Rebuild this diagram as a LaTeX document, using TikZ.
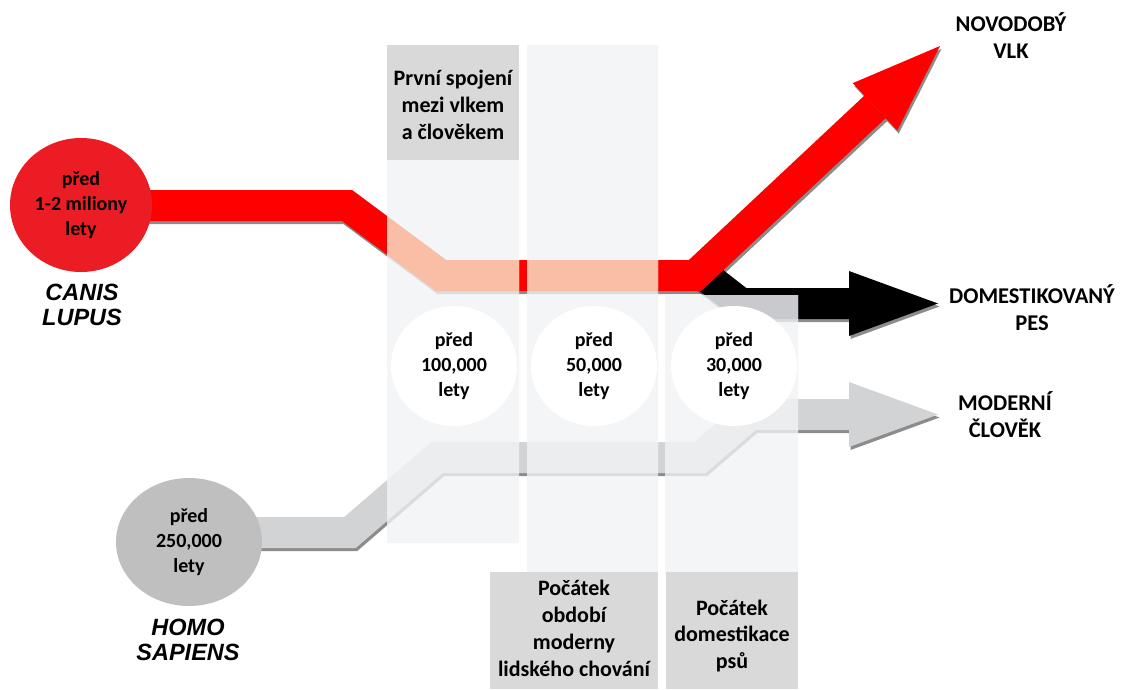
\documentclass[tikz,border=0pt]{standalone}
\usepackage{fontspec}
\setmainfont{Carlito}
\newfontfamily\arialf{Liberation Sans}
\usetikzlibrary{calc,shapes.geometric}
\definecolor{wred}{RGB}{254,0,0}
\definecolor{cred}{RGB}{236,28,36}
\definecolor{peach}{RGB}{249,190,165}
\definecolor{hgray}{RGB}{209,211,212}
\definecolor{hpale}{RGB}{236,237,238}
\definecolor{cgray}{RGB}{191,191,191}
\definecolor{colpale}{RGB}{244,245,247}
\definecolor{boxgray}{RGB}{217,217,217}
\definecolor{dogpale}{RGB}{200,202,205}
\tikzset{
  band/.style={line width=31pt, line join=miter, line cap=butt},
  txt/.style={align=center, inner sep=0pt, font=\fontsize{20}{25}\selectfont\bfseries},
  boxtxt/.style={align=center, inner sep=0pt, font=\fontsize{22}{27}\selectfont\bfseries},
  endtxt/.style={align=center, inner sep=0pt, font=\fontsize{22.5}{27}\selectfont\bfseries},
  species/.style={align=center, inner sep=0pt, font=\arialf\fontsize{23.5}{24.5}\selectfont\bfseries\itshape},
  datec/.style={ellipse, fill=white, minimum width=126pt, minimum height=120pt, inner sep=0pt, align=center, font=\fontsize{20}{25}\selectfont\bfseries},
}
\newcommand{\wolfpaths}[4]{%
  \begin{scope}[transform canvas={xshift=1.5pt,yshift=-3pt}]
    \draw[band, draw=black, opacity=#1] (h0) -- (h1) -- (h2) -- (h3) -- (h4) -- (hb);
    \fill[black, opacity=#1] (ht) -- (hl) -- (hr) -- cycle;
    \draw[band, draw=black, opacity=#1] (d0) -- (d1) -- (db);
    \fill[black, opacity=#1] (dt) -- (dl) -- (dr) -- cycle;
    \draw[band, draw=black, opacity=#1] (w0) -- (w1) -- (w2) -- (w3) -- (wb);
    \fill[black, opacity=#1] (wt) -- (wl) -- (wr) -- cycle;
  \end{scope}
  \draw[band, draw=#2] (h0) -- (h1) -- (h2) -- (h3) -- (h4) -- (hb);
  \fill[#2] (ht) -- (hl) -- (hr) -- cycle;
  \draw[band, draw=#3] (d0) -- (d1) -- (db);
  \fill[#3] (dt) -- (dl) -- (dr) -- cycle;
  \draw[band, draw=#4] (w0) -- (w1) -- (w2) -- (w3) -- (wb);
  \fill[#4] (wt) -- (wl) -- (wr) -- cycle;
}
\begin{document}
\begin{tikzpicture}[x=1pt,y=-1pt]
\useasboundingbox (0,0) rectangle (1125,689);
\fill[white] (0,0) rectangle (1125,689);
% human path
\coordinate (h0) at (200,532.5);
\coordinate (h1) at (350,532.5);
\coordinate (h2) at (437,457.5);
\coordinate (h3) at (700,457.5);
\coordinate (h4) at (750,414.5);
\coordinate (hb) at (849,414.5);
\coordinate (ht) at (938,414.5);
\coordinate (hl) at (849,382);
\coordinate (hr) at (849,447);
% dog path
\coordinate (d0) at (705,275.5);
\coordinate (d1) at (741,303.5);
\coordinate (db) at (849,303.5);
\coordinate (dt) at (938,303.5);
\coordinate (dl) at (849,271);
\coordinate (dr) at (849,336);
% wolf path
\coordinate (w0) at (120,205.5);
\coordinate (w1) at (347,205.5);
\coordinate (w2) at (441,275.5);
\coordinate (w3) at (695,275.5);
\coordinate (wt) at (940,46);
\coordinate (wb) at ($(wt)!89pt!(w3)$);
\coordinate (wl) at ($(wb)!32.5pt!90:(wt)$);
\coordinate (wr) at ($(wb)!32.5pt!-90:(wt)$);

\wolfpaths{0.45}{hgray}{black}{wred}

% translucent time columns
\begin{scope}
  \clip (387,160) rectangle (519,543) (527,45) rectangle (658,572) (665,295) rectangle (798,572);
  \fill[colpale] (0,0) rectangle (1125,689);
  \wolfpaths{0.10}{hpale}{dogpale}{peach}
\end{scope}

% species circles
\node[ellipse, fill=cred, minimum width=142pt, minimum height=134pt, inner sep=0pt, txt] (cl) at (81,205) {před\\1-2 miliony\\lety};
\node[ellipse, fill=cgray, minimum width=146pt, minimum height=128pt, inner sep=0pt, txt] (hs) at (189,542) {před\\250,000\\lety};
\node[species] (cln) at (82,305) {CANIS\\LUPUS};
\node[species] (hsn) at (188,640) {HOMO\\SAPIENS};

% date circles
\node[datec] (c1) at (454,366) {před\\100,000\\lety};
\node[datec] (c2) at (594,366) {před\\50,000\\lety};
\node[datec] (c3) at (734,366) {před\\30,000\\lety};

% label boxes
\fill[boxgray] (387,45) rectangle (519,160);
\fill[boxgray] (490,572) rectangle (658,689);
\fill[boxgray] (666,572) rectangle (798,689);
\node[boxtxt] (b1) at (453,105) {První spojení\\mezi vlkem\\a člověkem};
\node[boxtxt] (b2) at (574,628.5) {Počátek\\období\\moderny\\lidského chování};
\node[boxtxt] (b3) at (732,636) {Počátek\\domestikace\\psů};

% end labels
\node[endtxt] (e1) at (1011,36) {NOVODOBÝ\\VLK};
\node[endtxt] (e2) at (1032,308) {DOMESTIKOVANÝ\\PES};
\node[endtxt] (e3) at (1005,415) {MODERNÍ\\ČLOVĚK};
\end{tikzpicture}
\end{document}
